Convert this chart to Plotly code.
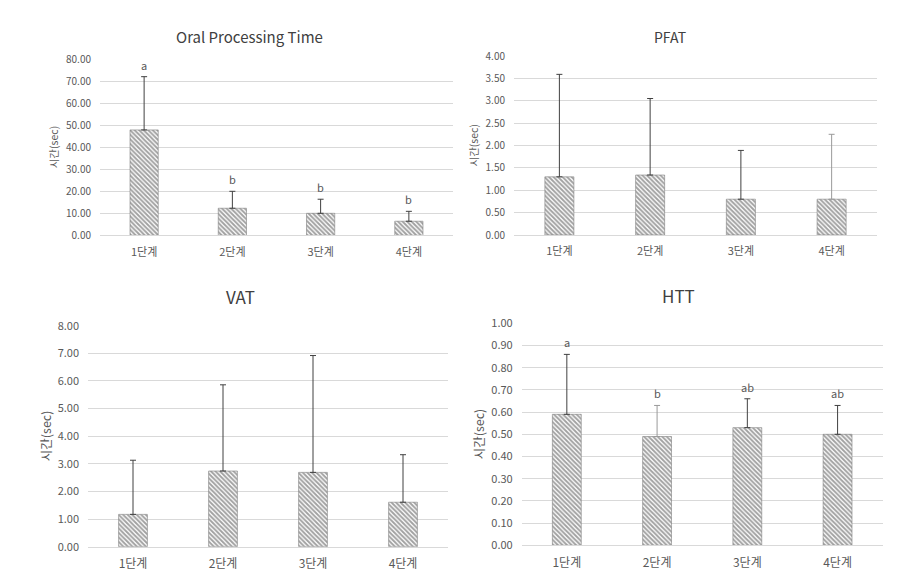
import plotly.graph_objects as go

W, H = 920, 585
DX, DY = 8, 8  # page offset compensation
categories = ["1단계", "2단계", "3단계", "4단계"]

opt_mean = [47.9, 12.3, 10.0, 6.4]
opt_sd = [24.2, 7.7, 6.4, 4.5]
opt_letters = ["a", "b", "b", "b"]

pfat_mean = [1.30, 1.34, 0.80, 0.80]
pfat_sd = [2.29, 1.71, 1.09, 1.45]

vat_mean = [1.17, 2.74, 2.69, 1.61]
vat_sd = [1.96, 3.12, 4.23, 1.72]

htt_mean = [0.59, 0.49, 0.53, 0.50]
htt_sd = [0.27, 0.14, 0.13, 0.13]
htt_letters = ["a", "b", "ab", "ab"]

titles = ["Oral Processing Time", "PFAT", "VAT", "HTT"]
ylabel = "시간(sec)"

FONT = "Noto Sans CJK KR"
TXT = "#595959"
GRID = "#d9d9d9"
ERR = "#404040"
ERR_LIGHT = "#9a9a9a"


def px(x):
    return (x - DX) / W


def py(y):
    return 1 - (y - DY) / H


# panel pixel boxes: x0, x1, ytop, ybottom
boxes = [
    (100, 453, 59.3, 235.3),
    (514, 877, 56, 235),
    (88, 448, 325.7, 546.7),
    (521.7, 882.7, 323.3, 545.3),
]
yranges = [(0, 80, 10), (0, 4, 0.5), (0, 8, 1), (0, 1, 0.1)]
title_pos = [(250, 36, 15), (670, 37, 14), (240, 296, 17), (678, 295, 17)]
ylab = [(53, 10.5), (473, 10.5), (45, 12.5), (478, 12.5)]
tick_sizes = [(10, 10), (10, 10), (11, 11), (11, 11)]
err_colors = [
    [ERR, ERR, ERR, ERR],
    [ERR, ERR, ERR, ERR_LIGHT],
    [ERR, ERR, ERR, ERR],
    [ERR, ERR_LIGHT, ERR, ERR],
]

means = [opt_mean, pfat_mean, vat_mean, htt_mean]
sds = [opt_sd, pfat_sd, vat_sd, htt_sd]
letters = [opt_letters, None, None, htt_letters]

fig = go.Figure()
annotations = []
for i in range(4):
    ax = "" if i == 0 else str(i + 1)
    x0, x1, yt, yb = boxes[i]
    for j, cat in enumerate(categories):
        fig.add_trace(go.Bar(
            x=[cat], y=[means[i][j]],
            xaxis="x" + ax, yaxis="y" + ax,
            width=0.32,
            marker=dict(
                color="white",
                line=dict(color="#7f7f7f", width=0.6),
                pattern=dict(shape="\\", fgcolor="#444444", bgcolor="white", size=3.2, solidity=0.6),
            ),
            error_y=dict(type="data", array=[sds[i][j]], arrayminus=[0], symmetric=False,
                         color=err_colors[i][j], thickness=1, width=3),
            showlegend=False,
        ))
    lo, hi, dt = yranges[i]
    xs, ys = tick_sizes[i]
    fig.update_layout(**{
        "xaxis" + ax: dict(domain=[px(x0), px(x1)], anchor="y" + ax,
                           categoryorder="array", categoryarray=categories,
                           showgrid=False, showline=True, linecolor=GRID, linewidth=1,
                           ticks="", tickfont=dict(family=FONT, size=xs + 1, color=TXT),
                           ticklabelstandoff=6),
        "yaxis" + ax: dict(domain=[py(yb), py(yt)], anchor="x" + ax,
                           range=[lo, hi], dtick=dt, tick0=0, tickformat=".2f",
                           showgrid=True, gridcolor=GRID, gridwidth=1, zeroline=False,
                           showline=False, ticks="",
                           tickfont=dict(family=FONT, size=ys, color=TXT),
                           ticklabelstandoff=8),
    })
    tx, ty, ts = title_pos[i]
    annotations.append(dict(text=titles[i], x=px(tx), y=py(ty), xref="paper", yref="paper",
                            showarrow=False, xanchor="center", yanchor="middle",
                            font=dict(family=FONT, size=ts, color="#404040")))
    lx, ls = ylab[i]
    annotations.append(dict(text=ylabel, x=px(lx), y=py((yt + yb) / 2),
                            xref="paper", yref="paper", showarrow=False, textangle=-90,
                            xanchor="center", yanchor="middle",
                            font=dict(family=FONT, size=ls, color=TXT)))
    if letters[i]:
        for c, m, s, l in zip(categories, means[i], sds[i], letters[i]):
            annotations.append(dict(text=l, x=c, y=m + s, xref="x" + ax, yref="y" + ax,
                                    showarrow=False, yanchor="bottom", yshift=2,
                                    font=dict(family=FONT, size=11, color=TXT)))

fig.update_layout(
    width=W, height=H,
    margin=dict(l=0, r=0, t=0, b=0, autoexpand=False),
    paper_bgcolor="white", plot_bgcolor="white",
    annotations=annotations,
    barmode="overlay",
)
fig.write_html("out.html")
